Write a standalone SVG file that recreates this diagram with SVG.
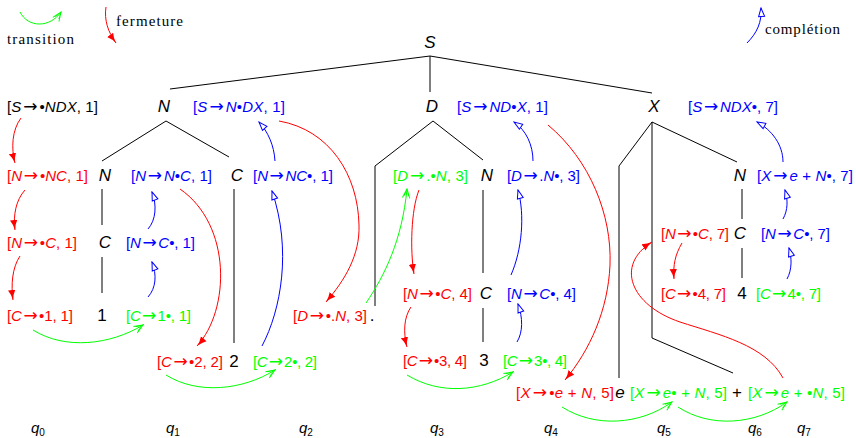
<svg xmlns="http://www.w3.org/2000/svg" width="856" height="438" viewBox="0 0 856 438">
<style>
.t{font-family:"Liberation Sans",Arial,sans-serif;font-size:15px}
.i{font-style:italic}
.a{font-family:"DejaVu Sans",sans-serif;font-size:17px;font-style:normal}
.r{fill:#ff0000}.b{fill:#0000ff}.g{fill:#00ff00}.k{fill:#000}
.n{font-family:"Liberation Sans",Arial,sans-serif;font-size:17px;fill:#000}
.lg{font-family:"Liberation Serif","Times New Roman",serif;font-size:15px;fill:#000}
.q{font-family:"Liberation Sans",Arial,sans-serif;font-size:15px;font-style:italic;fill:#000}
.tree{fill:none;stroke:#000;stroke-width:1}
.ar{fill:none;stroke:#ff0000;stroke-width:1;marker-end:url(#mr)}
.ab{fill:none;stroke:#0000ff;stroke-width:1;marker-end:url(#mb)}
.ag{fill:none;stroke:#00ff00;stroke-width:1;marker-end:url(#mg)}
</style>
<defs>
<marker id="mr" markerUnits="userSpaceOnUse" markerWidth="11" markerHeight="9" refX="10" refY="4.5" orient="auto"><path d="M0,0.8 Q5,3.8 10,4.5 Q5,5.2 0,8.2 Z" fill="#ff0000"/></marker>
<marker id="mb" markerUnits="userSpaceOnUse" markerWidth="11" markerHeight="9" refX="9.5" refY="4.5" orient="auto"><path d="M1,1.5 L9.5,4.5 L1,7.5 Z" fill="#fff" stroke="#0000ff" stroke-width="1"/></marker>
<marker id="mg" markerUnits="userSpaceOnUse" markerWidth="11" markerHeight="9" refX="10" refY="4.5" orient="auto"><path d="M1,0.8 L10,4.5 L1,8.2 M3,2.2 L10,4.5 L3,6.8" fill="none" stroke="#00ff00" stroke-width="1"/></marker>
</defs>

<g id="legend">
<path class="ag" d="M20 12 C28 28 50 28 61 12"/>
<text class="lg" x="7" y="44" textLength="67">transition</text>
<path class="ar" d="M106 7 C104 20 108 32 116 43"/>
<text class="lg" x="116" y="26" textLength="67">fermeture</text>
<path class="ab" d="M747 43 C757 33 762 22 761 8"/>
<text class="lg" x="765" y="34" textLength="75">complétion</text>
</g>

<g id="connectors">
<g id="tree-edges">
<path class="tree" d="M170 89 L430 56 L430 92 M430 56 L652 93"/>
<path class="tree" d="M102 161 L166 121 L229 157"/>
<path class="tree" d="M102 189 V225 M102 257 V293"/>
<path class="tree" d="M234 189 V343"/>
<path class="tree" d="M375 306 V166 L433 121 L483 160"/>
<path class="tree" d="M483 190 V273 M483 308 V342"/>
<path class="tree" d="M619 378 V166 L652 122 L737 162 M652 122 V338 L733 373"/>
<path class="tree" d="M742 189 V219 M742 248 V278"/>
</g>
<g id="fermeture">
<path class="ar" d="M21 118 C12 130 11 148 15 163"/>
<path class="ar" d="M25 190 C16 200 13 215 15 230"/>
<path class="ar" d="M20 256 C12 268 11 285 13 300"/>
<path class="ar" d="M180 189 C232 225 230 310 197 346"/>
<path class="ar" d="M279 121 C330 130 358 175 359 225 C360 255 345 280 326 302"/>
<path class="ar" d="M419 190 C411 210 410 250 414 274"/>
<path class="ar" d="M411 307 C404 317 403 332 407 347"/>
<path class="ar" d="M548 125 C590 160 612 215 610 265 C608 310 590 350 565 380"/>
<path class="ar" d="M682 243 C675 255 673 265 674 279"/>
<path class="ar" d="M783 378 C765 345 720 335 680 322 C630 305 615 265 652 242"/>
</g>
<g id="completion">
<path class="ab" d="M148 229 C156 220 157 205 152 192"/>
<path class="ab" d="M148 297 C156 288 157 275 152 262"/>
<path class="ab" d="M262 346 C281 310 292 250 272 191"/>
<path class="ab" d="M275 161 C274 145 268 132 259 122"/>
<path class="ab" d="M533 161 C533 145 526 130 514 122"/>
<path class="ab" d="M511 275 C522 250 525 215 518 190"/>
<path class="ab" d="M517 342 C523 332 523 318 518 304"/>
<path class="ab" d="M783 162 C783 145 772 130 757 122"/>
<path class="ab" d="M783 219 C788 210 788 200 785 190"/>
<path class="ab" d="M787 279 C792 270 792 258 789 248"/>
</g>
<g id="transition">
<path class="ag" d="M33 330 C65 350 110 345 143 325"/>
<path class="ag" d="M166 375 C198 395 243 390 275 370"/>
<path class="ag" d="M366 303 C385 275 402 240 407 189"/>
<path class="ag" d="M407 375 C440 395 480 392 513 372"/>
<path class="ag" d="M562 407 C595 428 640 425 672 402"/>
<path class="ag" d="M678 407 C710 428 755 425 787 402"/>
</g>
</g>

<g id="tree-nodes">
<g id="nS"><text class="n i" x="430" y="48" text-anchor="middle">S</text></g>
<g id="nN"><text class="n i" x="164" y="112" text-anchor="middle">N</text></g>
<g id="nD"><text class="n i" x="432" y="112" text-anchor="middle">D</text></g>
<g id="nX"><text class="n i" x="654" y="112" text-anchor="middle">X</text></g>
<g id="nN1"><text class="n i" x="105" y="181" text-anchor="middle">N</text></g>
<g id="nC1"><text class="n i" x="237" y="181" text-anchor="middle">C</text></g>
<g id="nN2"><text class="n i" x="487" y="181" text-anchor="middle">N</text></g>
<g id="nN3"><text class="n i" x="740" y="181" text-anchor="middle">N</text></g>
<g id="nC2"><text class="n i" x="105" y="248" text-anchor="middle">C</text></g>
<g id="nC3"><text class="n i" x="740" y="239" text-anchor="middle">C</text></g>
<g id="nC4"><text class="n i" x="486" y="299" text-anchor="middle">C</text></g>
<g id="l1"><text class="n" x="102" y="321" text-anchor="middle">1</text></g>
<g id="l2"><text class="n" x="234" y="367" text-anchor="middle">2</text></g>
<g id="ldot"><text class="n" x="372" y="321" text-anchor="middle">.</text></g>
<g id="l3"><text class="n" x="484" y="366" text-anchor="middle">3</text></g>
<g id="l4"><text class="n" x="742" y="299" text-anchor="middle">4</text></g>
<g id="le"><text class="n i" x="620" y="398" text-anchor="middle">e</text></g>
<g id="lplus"><text class="n" x="737" y="398" text-anchor="middle">+</text></g>
</g>

<g id="items">
<g id="it1"><text class="t k" x="7" y="112" textLength="91">[<tspan class="i">S</tspan><tspan class="a">&#x200A;→&#x200A;</tspan>•<tspan class="i">NDX</tspan>, 1]</text></g>
<g id="it2"><text class="t b" x="193" y="112" textLength="92">[<tspan class="i">S</tspan><tspan class="a">&#x200A;→&#x200A;</tspan><tspan class="i">N</tspan>•<tspan class="i">DX</tspan>, 1]</text></g>
<g id="it3"><text class="t b" x="457" y="112" textLength="91">[<tspan class="i">S</tspan><tspan class="a">&#x200A;→&#x200A;</tspan><tspan class="i">ND</tspan>•<tspan class="i">X</tspan>, 1]</text></g>
<g id="it4"><text class="t b" x="688" y="112" textLength="90">[<tspan class="i">S</tspan><tspan class="a">&#x200A;→&#x200A;</tspan><tspan class="i">NDX</tspan>•, 7]</text></g>
<g id="it5"><text class="t r" x="7" y="181" textLength="81">[<tspan class="i">N</tspan><tspan class="a">&#x200A;→&#x200A;</tspan>•<tspan class="i">NC</tspan>, 1]</text></g>
<g id="it6"><text class="t b" x="131" y="181" textLength="81">[<tspan class="i">N</tspan><tspan class="a">&#x200A;→&#x200A;</tspan><tspan class="i">N</tspan>•<tspan class="i">C</tspan>, 1]</text></g>
<g id="it7"><text class="t b" x="253" y="181" textLength="80">[<tspan class="i">N</tspan><tspan class="a">&#x200A;→&#x200A;</tspan><tspan class="i">NC</tspan>•, 1]</text></g>
<g id="it8"><text class="t g" x="393" y="181" textLength="75">[<tspan class="i">D</tspan><tspan class="a">&#x200A;→&#x200A;</tspan>.•<tspan class="i">N</tspan>, 3]</text></g>
<g id="it9"><text class="t b" x="507" y="181" textLength="73">[<tspan class="i">D</tspan><tspan class="a">&#x200A;→&#x200A;</tspan>.<tspan class="i">N</tspan>•, 3]</text></g>
<g id="it10"><text class="t b" x="757" y="181" textLength="96">[<tspan class="i">X</tspan><tspan class="a">&#x200A;→&#x200A;</tspan><tspan class="i">e</tspan> + <tspan class="i">N</tspan>•, 7]</text></g>
<g id="it11"><text class="t r" x="7" y="248" textLength="70">[<tspan class="i">N</tspan><tspan class="a">&#x200A;→&#x200A;</tspan>•<tspan class="i">C</tspan>, 1]</text></g>
<g id="it12"><text class="t b" x="126" y="248" textLength="69">[<tspan class="i">N</tspan><tspan class="a">&#x200A;→&#x200A;</tspan><tspan class="i">C</tspan>•, 1]</text></g>
<g id="it13"><text class="t r" x="661" y="239" textLength="68">[<tspan class="i">N</tspan><tspan class="a">&#x200A;→&#x200A;</tspan>•<tspan class="i">C</tspan>, 7]</text></g>
<g id="it14"><text class="t b" x="761" y="239" textLength="69">[<tspan class="i">N</tspan><tspan class="a">&#x200A;→&#x200A;</tspan><tspan class="i">C</tspan>•, 7]</text></g>
<g id="it15"><text class="t r" x="403" y="299" textLength="69">[<tspan class="i">N</tspan><tspan class="a">&#x200A;→&#x200A;</tspan>•<tspan class="i">C</tspan>, 4]</text></g>
<g id="it16"><text class="t b" x="507" y="299" textLength="69">[<tspan class="i">N</tspan><tspan class="a">&#x200A;→&#x200A;</tspan><tspan class="i">C</tspan>•, 4]</text></g>
<g id="it17"><text class="t r" x="661" y="299" textLength="65">[<tspan class="i">C</tspan><tspan class="a">&#x200A;→&#x200A;</tspan>•4, 7]</text></g>
<g id="it18"><text class="t g" x="756" y="299" textLength="65">[<tspan class="i">C</tspan><tspan class="a">&#x200A;→&#x200A;</tspan>4•, 7]</text></g>
<g id="it19"><text class="t r" x="7" y="321" textLength="66">[<tspan class="i">C</tspan><tspan class="a">&#x200A;→&#x200A;</tspan>•1, 1]</text></g>
<g id="it20"><text class="t g" x="126" y="321" textLength="65">[<tspan class="i">C</tspan><tspan class="a">&#x200A;→&#x200A;</tspan>1•, 1]</text></g>
<g id="it21"><text class="t r" x="293" y="321" textLength="74">[<tspan class="i">D</tspan><tspan class="a">&#x200A;→&#x200A;</tspan>•.<tspan class="i">N</tspan>, 3]</text></g>
<g id="it22"><text class="t r" x="157" y="367" textLength="66">[<tspan class="i">C</tspan><tspan class="a">&#x200A;→&#x200A;</tspan>•2, 2]</text></g>
<g id="it23"><text class="t g" x="253" y="367" textLength="64">[<tspan class="i">C</tspan><tspan class="a">&#x200A;→&#x200A;</tspan>2•, 2]</text></g>
<g id="it24"><text class="t r" x="403" y="366" textLength="64">[<tspan class="i">C</tspan><tspan class="a">&#x200A;→&#x200A;</tspan>•3, 4]</text></g>
<g id="it25"><text class="t g" x="503" y="366" textLength="64">[<tspan class="i">C</tspan><tspan class="a">&#x200A;→&#x200A;</tspan>3•, 4]</text></g>
<g id="it26"><text class="t r" x="516" y="398" textLength="98">[<tspan class="i">X</tspan><tspan class="a">&#x200A;→&#x200A;</tspan>•<tspan class="i">e</tspan> + <tspan class="i">N</tspan>, 5]</text></g>
<g id="it27"><text class="t g" x="630" y="398" textLength="97">[<tspan class="i">X</tspan><tspan class="a">&#x200A;→&#x200A;</tspan><tspan class="i">e</tspan>• + <tspan class="i">N</tspan>, 5]</text></g>
<g id="it28"><text class="t g" x="748" y="398" textLength="97">[<tspan class="i">X</tspan><tspan class="a">&#x200A;→&#x200A;</tspan><tspan class="i">e</tspan> + •<tspan class="i">N</tspan>, 5]</text></g>
</g>

<g id="states">
<text class="q" x="31" y="433">q<tspan font-size="10" dy="3" font-style="normal">0</tspan></text>
<text class="q" x="166" y="433">q<tspan font-size="10" dy="3" font-style="normal">1</tspan></text>
<text class="q" x="299" y="433">q<tspan font-size="10" dy="3" font-style="normal">2</tspan></text>
<text class="q" x="430" y="433">q<tspan font-size="10" dy="3" font-style="normal">3</tspan></text>
<text class="q" x="544" y="433">q<tspan font-size="10" dy="3" font-style="normal">4</tspan></text>
<text class="q" x="657" y="433">q<tspan font-size="10" dy="3" font-style="normal">5</tspan></text>
<text class="q" x="748" y="433">q<tspan font-size="10" dy="3" font-style="normal">6</tspan></text>
<text class="q" x="797" y="433">q<tspan font-size="10" dy="3" font-style="normal">7</tspan></text>
</g>
</svg>
